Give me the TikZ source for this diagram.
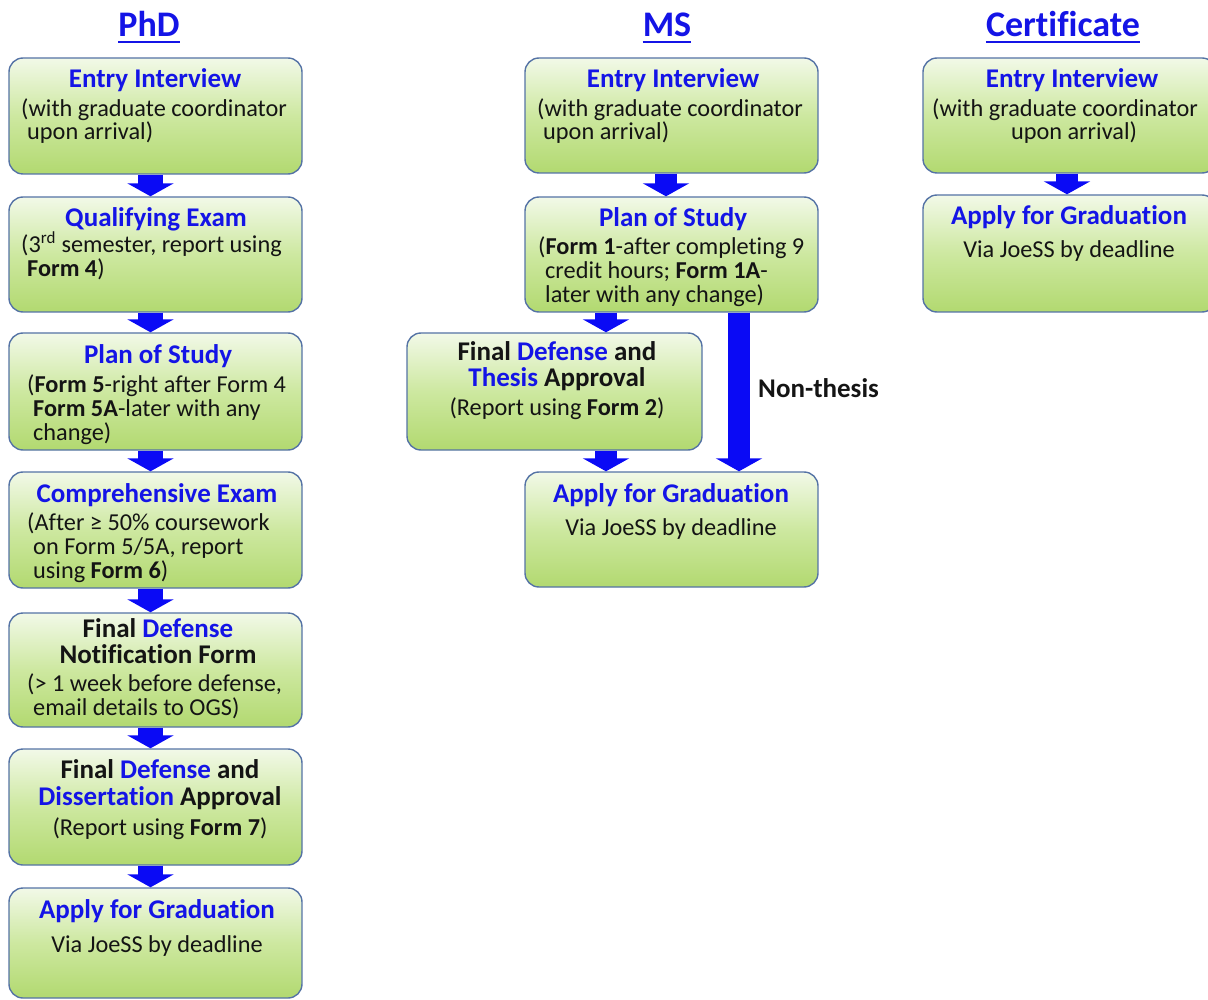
\documentclass[tikz,border=0pt]{standalone}
\usepackage{fontspec}
\setmainfont{Carlito}[RawFeature={-liga;-clig;-calt}]
\usetikzlibrary{arrows.meta,calc}
\definecolor{hblue}{RGB}{20,20,230}
\definecolor{ablue}{RGB}{10,10,245}
\definecolor{bord}{RGB}{85,115,165}
\definecolor{gtop}{RGB}{242,249,232}
\definecolor{gmid}{RGB}{205,232,160}
\definecolor{gbot}{RGB}{178,217,112}
\definecolor{txtc}{RGB}{20,20,20}
\newcommand\bodyf{\fontsize{24.3}{28}\selectfont}
\newcommand\headf{\fontsize{27}{30}\selectfont\bfseries}
\newcommand\titf{\fontsize{36}{40}\selectfont\bfseries}
\newcommand\HB[1]{{\color{hblue}#1}}
\newcommand\BX[5]{\node[box, minimum width={#4-#2}, minimum height={#5-#3}] (#1) at ({(#2+#4)/2},{(#3+#5)/2}) {};}
\tikzset{
 box/.style={draw=bord, line width=1.4pt, rounded corners=14pt, top color=gtop, bottom color=gbot, middle color=gmid, inner sep=0pt},
 lt/.style={inner sep=0pt, anchor=base west, text=txtc, font=\bodyf},
 ct/.style={inner sep=0pt, anchor=base, text=txtc, font=\bodyf},
 hd/.style={inner sep=0pt, anchor=base, text=hblue, font=\headf},
 hdk/.style={inner sep=0pt, anchor=base, text=txtc, font=\headf},
 ttl/.style={inner sep=0pt, anchor=base, text=hblue, font=\titf},
 flow/.style={ablue, line width=#1, -{Triangle[width=46pt,length=13pt]}},
 flow/.default=24pt,
 uline/.style={hblue, line width=2pt},
}
\begin{document}
\begin{tikzpicture}[x=1pt,y=-1pt]
\useasboundingbox (0,0) rectangle (1208,1000);
% titles
\node[ttl] (tphd) at (149,37) {PhD};
\node[ttl] (tms) at (667,37) {MS};
\node[ttl] (tcert) at (1063,37) {Certificate};
\draw[uline] ([yshift=-5pt]tphd.base west) -- ([yshift=-5pt]tphd.base east);
\draw[uline] ([yshift=-5pt]tms.base west) -- ([yshift=-5pt]tms.base east);
\draw[uline] ([yshift=-5pt]tcert.base west) -- ([yshift=-5pt]tcert.base east);
% PhD boxes
\BX{p1}{9}{58}{302}{174}
\BX{p2}{9}{197}{302}{312}
\BX{p3}{9}{333}{302}{450}
\BX{p4}{9}{472}{302}{588}
\BX{p5}{9}{613}{302}{727}
\BX{p6}{9}{749}{302}{865}
\BX{p7}{9}{888}{302}{998}
% MS boxes
\BX{m1}{525}{58}{818}{173}
\BX{m2}{525}{197}{818}{312}
\BX{m3}{407}{333}{702}{450}
\BX{m4}{525}{472}{818}{587}
% Certificate boxes
\BX{c1}{923}{58}{1216}{173}
\BX{c2}{923}{195}{1216}{312}
% PhD texts
\node[hd] (p1h) at (155,88) {Entry Interview};
\node[lt] (p1a) at (21,117) {(with graduate coordinator};
\node[lt] (p1b) at (27,140) {upon arrival)};
\node[hd] (p2h) at (156,227) {Qualifying Exam};
\node[lt] (p2a) at (21,253) {(3\textsuperscript{rd} semester, report using};
\node[lt] (p2b) at (27,277) {\textbf{Form 4})};
\node[hd] (p3h) at (158,363) {Plan of Study};
\node[lt] (p3a) at (27,392) {(\textbf{Form 5}-right after Form 4};
\node[lt] (p3b) at (33,416) {\textbf{Form 5A}-later with any};
\node[lt] (p3c) at (33,440) {change)};
\node[hd] (p4h) at (157,502) {Comprehensive Exam};
\node[lt] (p4a) at (27,530) {(After ≥ 50\% coursework};
\node[lt] (p4b) at (33,554) {on Form 5/5A, report};
\node[lt] (p4c) at (33,578) {using \textbf{Form 6})};
\node[hdk] (p5h) at (158,637) {Final \HB{Defense}};
\node[hdk] (p5i) at (158,663) {Notification Form};
\node[lt] (p5a) at (27,691) {(> 1 week before defense,};
\node[lt] (p5b) at (33,715) {email details to OGS)};
\node[hdk] (p6h) at (160,778) {Final \HB{Defense} and};
\node[hdk] (p6i) at (160,805) {\HB{Dissertation} Approval};
\node[ct] (p6a) at (160,835) {(Report using \textbf{Form 7})};
\node[hd] (p7h) at (157,918) {Apply for Graduation};
\node[ct] (p7a) at (157,952) {Via JoeSS by deadline};
% MS texts
\node[hd] (m1h) at (673,88) {Entry Interview};
\node[lt] (m1a) at (537,117) {(with graduate coordinator};
\node[lt] (m1b) at (543,140) {upon arrival)};
\node[hd] (m2h) at (673,227) {Plan of Study};
\node[lt] (m2a) at (538,255) {(\textbf{Form 1}-after completing 9};
\node[lt] (m2b) at (545,279) {credit hours; \textbf{Form 1A}-};
\node[lt] (m2c) at (545,303) {later with any change)};
\node[hdk] (m3h) at (557,360) {Final \HB{Defense} and};
\node[hdk] (m3i) at (557,386) {\HB{Thesis} Approval};
\node[ct] (m3a) at (557,415) {(Report using \textbf{Form 2})};
\node[hd] (m4h) at (671,502) {Apply for Graduation};
\node[ct] (m4a) at (671,535) {Via JoeSS by deadline};
\node[hdk, anchor=base west] (nt) at (758,398) {Non-thesis};
% Certificate texts
\node[hd] (c1h) at (1072,88) {Entry Interview};
\node[ct] (c1a) at (1065,117) {(with graduate coordinator};
\node[ct] (c1b) at (1074,140) {upon arrival)};
\node[hd] (c2h) at (1069,225) {Apply for Graduation};
\node[ct] (c2a) at (1069,258) {Via JoeSS by deadline};
% arrows PhD
\draw[flow=25pt] ($(p1.south)+(-5,0)$) -- ($(p2.north)+(-5,0)$);
\draw[flow=25pt] ($(p2.south)+(-5,0)$) -- ($(p3.north)+(-5,0)$);
\draw[flow=25pt] ($(p3.south)+(-5,0)$) -- ($(p4.north)+(-5,0)$);
\draw[flow=25pt] ($(p4.south)+(-5,0)$) -- ($(p5.north)+(-5,0)$);
\draw[flow=25pt] ($(p5.south)+(-5,0)$) -- ($(p6.north)+(-5,0)$);
\draw[flow=25pt] ($(p6.south)+(-5,0)$) -- ($(p7.north)+(-5,0)$);
% arrows MS
\coordinate (xa) at (666,0);
\coordinate (xb) at (606,0);
\coordinate (xc) at (739,0);
\draw[flow=22pt] (m1.south -| xa) -- (m2.north -| xa);
\draw[flow=22pt] (m2.south -| xb) -- (m3.north -| xb);
\draw[flow=22pt] (m3.south -| xb) -- (m4.north -| xb);
\draw[flow=22pt] (m2.south -| xc) -- (m4.north -| xc);
% arrows Certificate
\coordinate (xd) at (1067,0);
\draw[flow=22pt] (c1.south -| xd) -- (c2.north -| xd);
\end{tikzpicture}
\end{document}
